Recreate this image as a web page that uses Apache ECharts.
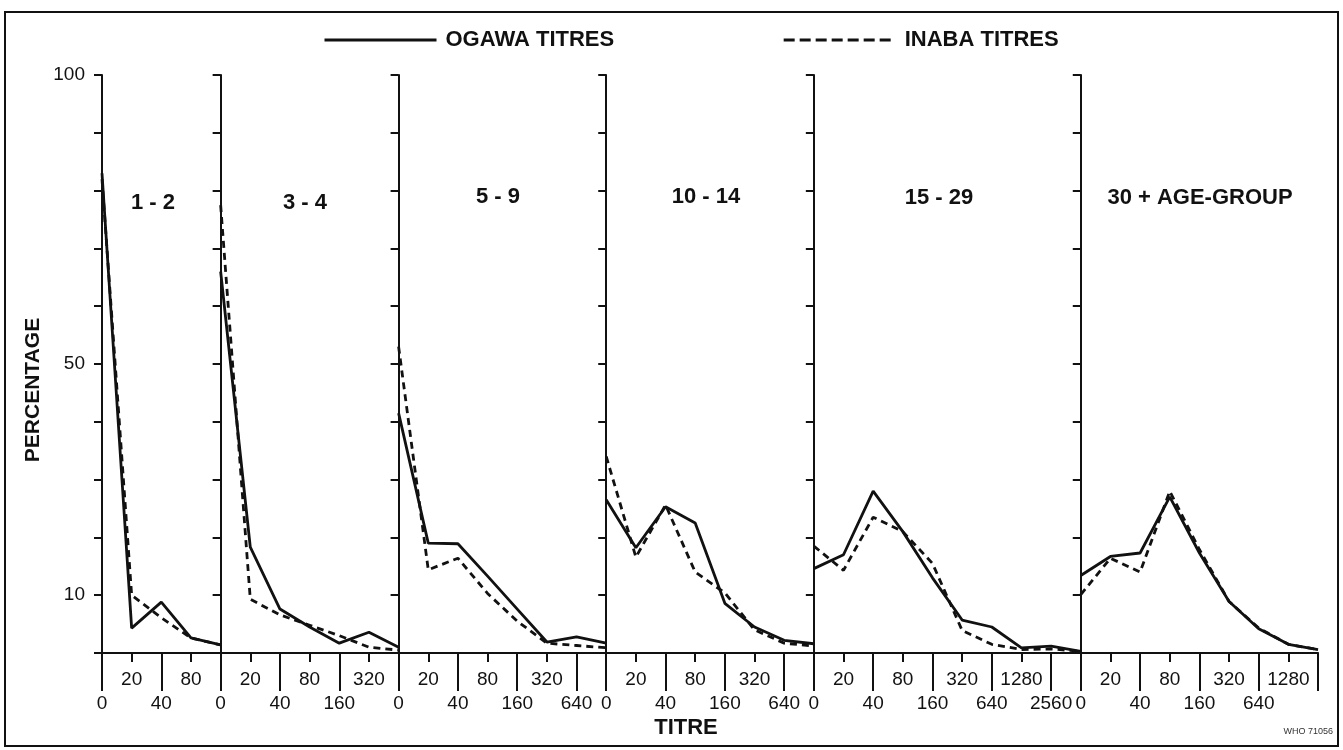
<!DOCTYPE html>
<html>
<head>
<meta charset="utf-8">
<script src="https://cdn.jsdelivr.net/npm/echarts@6/dist/echarts.min.js"></script>
<style>
html,body{margin:0;padding:0;background:#ffffff;}
#chart{width:1343px;height:750px;}
</style>
</head>
<body>
<div id="chart"></div>
<script>
// ---------------- DATA ----------------
const panelLabels = ['1 - 2', '3 - 4', '5 - 9', '10 - 14', '15 - 29', '30 + AGE-GROUP'];
const seriesNames = ['OGAWA TITRES', 'INABA TITRES'];
const yTickLabels = ['10', '50', '100'];

const cats1 = ['0', '20', '40', '80', '160'];
const cats2 = ['0', '20', '40', '80', '160', '320', '640'];
const cats3 = ['0', '20', '40', '80', '160', '320', '640', '1280'];
const cats4 = ['0', '20', '40', '80', '160', '320', '640', '1280'];
const cats5 = ['0', '20', '40', '80', '160', '320', '640', '1280', '2560', '5120'];
const cats6 = ['0', '20', '40', '80', '160', '320', '640', '1280', '2560'];

const ogawa1 = [83, 4.3, 8.8, 2.6, 1.4];
const inaba1 = [82, 10.0, 6.1, 2.6, 1.4];
const ogawa2 = [66, 18.3, 7.6, 4.5, 1.7, 3.6, 1.0];
const inaba2 = [77.5, 9.3, 6.6, 4.8, 3.0, 1.0, 0.5];
const ogawa3 = [41.5, 19.0, 18.9, 13.3, 7.6, 1.9, 2.8, 1.7];
const inaba3 = [53, 14.4, 16.4, 10.3, 5.5, 1.7, 1.3, 0.9];
const ogawa4 = [26.5, 18.2, 25.3, 22.5, 8.6, 4.5, 2.2, 1.6];
const inaba4 = [34, 16.6, 25.6, 14.0, 10.4, 4.0, 1.7, 1.2];
const ogawa5 = [14.6, 17.0, 28.0, 21.0, 13.0, 5.7, 4.5, 0.9, 1.2, 0.3];
const inaba5 = [18.5, 14.3, 23.5, 21.0, 15.5, 3.9, 1.5, 0.6, 0.7, 0.3];
const ogawa6 = [13.4, 16.7, 17.3, 27.0, 17.3, 8.9, 4.2, 1.5, 0.6];
const inaba6 = [10.1, 16.4, 14.0, 28.0, 17.9, 8.9, 4.3, 1.5, 0.6];

const catsList = [cats1, cats2, cats3, cats4, cats5, cats6];
const ogawaList = [ogawa1, ogawa2, ogawa3, ogawa4, ogawa5, ogawa6];
const inabaList = [inaba1, inaba2, inaba3, inaba4, inaba5, inaba6];

// ---------------- LAYOUT / STYLE ----------------
const FONT = '"Liberation Sans", Arial, sans-serif';
const INK = '#111111';
const STEP = 29.66;
const X0 = 102;
const TOP = 75;
const HEIGHT = 578;

const grids = [], xAxes = [], yAxes = [], series = [];
let start = 0;
catsList.forEach(function (cats, p) {
  const n = cats.length - 1;
  const last = n;
  grids.push({ left: X0 + start * STEP, top: TOP, width: n * STEP, height: HEIGHT, containLabel: false, outerBoundsMode: 'none' });
  start += n;
  const lbl = { color: INK, fontSize: 19, fontFamily: FONT };
  // upper row (odd categories, short ticks)
  xAxes.push({
    type: 'category', gridIndex: p, data: cats, boundaryGap: false, position: 'bottom',
    axisLine: { show: true, onZero: false, lineStyle: { color: INK, width: 2 } },
    axisTick: { show: true, interval: function (i) { return i % 2 === 1; }, length: 9, lineStyle: { color: INK, width: 2 } },
    axisLabel: Object.assign({ interval: function (i) { return i % 2 === 1 && i < last; }, margin: 17 }, lbl),
    splitLine: { show: false }
  });
  // lower row (even categories, long ticks)
  xAxes.push({
    type: 'category', gridIndex: p, data: cats, boundaryGap: false, position: 'bottom', offset: 0,
    axisLine: { show: false, onZero: false },
    axisTick: { show: true, interval: function (i) { return i % 2 === 0; }, length: 38, lineStyle: { color: INK, width: 2 } },
    axisLabel: Object.assign({ interval: function (i) { return i % 2 === 0 && i < last; }, margin: 41 }, lbl),
    splitLine: { show: false }
  });
  yAxes.push({
    type: 'value', gridIndex: p, min: 0, max: 100, interval: 10,
    axisLine: { show: true, lineStyle: { color: INK, width: 2 } },
    axisTick: { show: true, length: 8, lineStyle: { color: INK, width: 2 } },
    axisLabel: {
      show: p === 0, margin: 17, color: INK, fontSize: 19, fontFamily: FONT,
      formatter: function (v) { return yTickLabels.indexOf(String(v)) >= 0 ? String(v) : ''; }
    },
    splitLine: { show: false }
  });
  series.push({
    name: seriesNames[0], type: 'line', xAxisIndex: 2 * p, yAxisIndex: p,
    data: ogawaList[p], symbol: 'none', silent: true, z: 3,
    itemStyle: { color: INK },
    lineStyle: { color: INK, width: 2.8, type: 'solid' }
  });
  series.push({
    name: seriesNames[1], type: 'line', xAxisIndex: 2 * p, yAxisIndex: p,
    data: inabaList[p], symbol: 'none', silent: true, z: 2,
    itemStyle: { color: INK },
    lineStyle: { color: INK, width: 2.8, type: [7, 5] }
  });
});

const labelPos = [[153, 203], [305, 203], [498, 197], [706, 197], [939, 198], [1200, 198]];
const graphics = [
  { type: 'rect', shape: { x: 5, y: 12, width: 1333, height: 734 }, style: { fill: 'none', stroke: INK, lineWidth: 2 }, silent: true },
  { type: 'text', x: 686, y: 728, style: { text: 'TITRE', align: 'center', verticalAlign: 'middle', font: 'bold 22px ' + FONT, fill: INK } },
  { type: 'text', x: 33, y: 390, rotation: Math.PI / 2, style: { text: 'PERCENTAGE', align: 'center', verticalAlign: 'middle', font: 'bold 21px ' + FONT, fill: INK } },
  { type: 'text', x: 1333, y: 732, style: { text: 'WHO 71056', align: 'right', verticalAlign: 'middle', font: '9px ' + FONT, fill: '#333' } }
];
panelLabels.forEach(function (t, i) {
  graphics.push({ type: 'text', x: labelPos[i][0], y: labelPos[i][1], style: { text: t, align: 'center', verticalAlign: 'middle', font: 'bold 22px ' + FONT, fill: INK } });
});

const chart = echarts.init(document.getElementById('chart'), null, { renderer: 'canvas' });
chart.setOption({
  animation: false,
  backgroundColor: '#ffffff',
  legend: {
    show: true, top: 24, left: 318, orient: 'horizontal',
    itemWidth: 112, itemHeight: 4, itemGap: 168,
    data: [
      { name: seriesNames[0], lineStyle: { width: 3, type: 'solid' } },
      { name: seriesNames[1], lineStyle: { width: 3, type: [11, 5] } }
    ],
    itemStyle: { color: 'rgba(0,0,0,0)', borderWidth: 0, borderColor: 'rgba(0,0,0,0)' },
    textStyle: { fontSize: 22, fontWeight: 'bold', color: INK, fontFamily: FONT, padding: [0, 0, 0, 4] }
  },
  grid: grids,
  xAxis: xAxes,
  yAxis: yAxes,
  series: series,
  graphic: graphics
});
</script>
</body>
</html>
